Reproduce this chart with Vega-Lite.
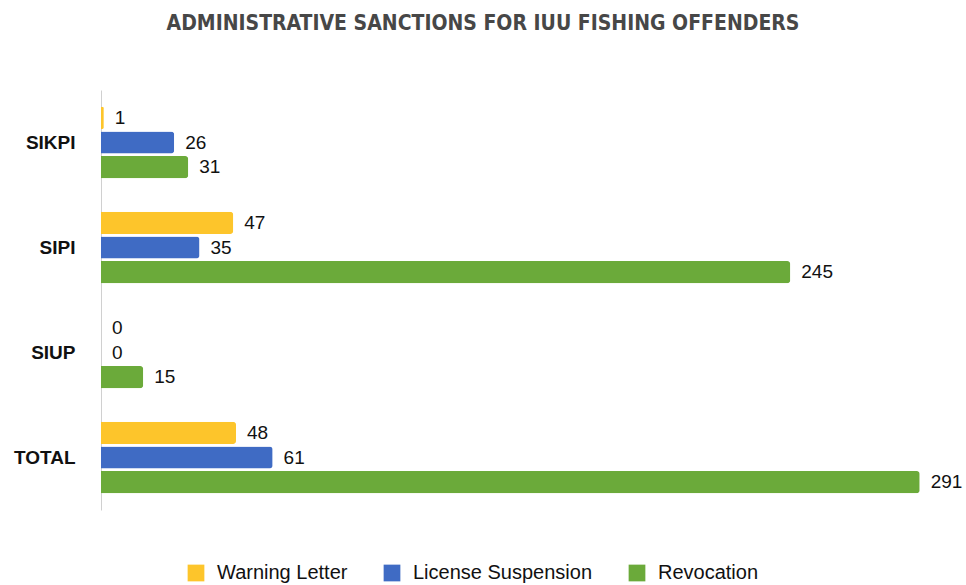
{
  "$schema": "https://vega.github.io/schema/vega-lite/v6.json",
  "width": 844,
  "height": 420,
  "autosize": {"type": "none"},
  "padding": {"left": 101, "top": 90, "right": 21, "bottom": 75},
  "background": "white",
  "config": {"view": {"stroke": null}},
  "title": {
    "text": "ADMINISTRATIVE SANCTIONS FOR IUU FISHING OFFENDERS",
    "font": "DejaVu Sans Condensed",
    "fontWeight": "bold",
    "fontSize": 21,
    "color": "#474747",
    "anchor": "middle",
    "dx": -40,
    "offset": 56
  },
  "data": {
    "values": [
      {"category": "SIKPI", "type": "Warning Letter", "value": 1},
      {"category": "SIKPI", "type": "License Suspension", "value": 26},
      {"category": "SIKPI", "type": "Revocation", "value": 31},
      {"category": "SIPI", "type": "Warning Letter", "value": 47},
      {"category": "SIPI", "type": "License Suspension", "value": 35},
      {"category": "SIPI", "type": "Revocation", "value": 245},
      {"category": "SIUP", "type": "Warning Letter", "value": 0},
      {"category": "SIUP", "type": "License Suspension", "value": 0},
      {"category": "SIUP", "type": "Revocation", "value": 15},
      {"category": "TOTAL", "type": "Warning Letter", "value": 48},
      {"category": "TOTAL", "type": "License Suspension", "value": 61},
      {"category": "TOTAL", "type": "Revocation", "value": 291}
    ]
  },
  "encoding": {
    "y": {
      "field": "category",
      "type": "nominal",
      "sort": ["SIKPI", "SIPI", "SIUP", "TOTAL"],
      "scale": {"paddingInner": 0.32, "paddingOuter": 0.16},
      "axis": {
        "title": null,
        "ticks": false,
        "domain": true,
        "domainColor": "#d0d0d0",
        "domainWidth": 1,
        "labelFont": "Liberation Sans",
        "labelFontWeight": "bold",
        "labelFontSize": 19,
        "labelColor": "#111111",
        "labelPadding": 26
      }
    },
    "yOffset": {
      "field": "type",
      "type": "nominal",
      "sort": ["Warning Letter", "License Suspension", "Revocation"],
      "scale": {"paddingInner": 0.1, "paddingOuter": 0}
    },
    "x": {
      "field": "value",
      "type": "quantitative",
      "scale": {"domain": [0, 300], "nice": false},
      "axis": null
    }
  },
  "layer": [
    {
      "mark": {"type": "bar", "cornerRadiusEnd": 3},
      "encoding": {
        "color": {
          "field": "type",
          "type": "nominal",
          "sort": ["Warning Letter", "License Suspension", "Revocation"],
          "scale": {
            "domain": ["Warning Letter", "License Suspension", "Revocation"],
            "range": ["#FDC52B", "#3F6BC4", "#6BAA3A"]
          },
          "legend": {
            "title": null,
            "orient": "none",
            "direction": "horizontal",
            "legendX": 85,
            "legendY": 473,
            "symbolType": "square",
            "symbolSize": 280,
            "symbolStrokeWidth": 0,
            "symbolOpacity": 1,
            "labelFont": "Liberation Sans",
            "labelFontSize": 20,
            "labelColor": "#111111",
            "labelLimit": 300,
            "labelOffset": 11,
            "columnPadding": 34
          }
        }
      }
    },
    {
      "mark": {
        "type": "text",
        "align": "left",
        "baseline": "middle",
        "dx": 11,
        "font": "Liberation Sans",
        "fontSize": 19,
        "color": "#111111"
      },
      "encoding": {
        "text": {"field": "value", "type": "quantitative"}
      }
    }
  ]
}
